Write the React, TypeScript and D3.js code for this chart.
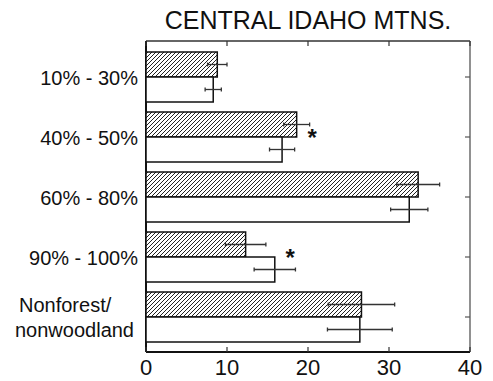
import * as d3 from 'd3'

const title = 'CENTRAL IDAHO MTNS.'
const categories = ['10% - 30%', '40% - 50%', '60% - 80%', '90% - 100%', 'Nonforest/\nnonwoodland']
const series = ['hatched', 'open']
const hatchedValues = [8.8, 18.6, 33.6, 12.3, 26.6]
const hatchedErrors = [1.2, 1.6, 2.65, 2.5, 4.1]
const openValues = [8.3, 16.8, 32.5, 15.9, 26.4]
const openErrors = [1.0, 1.55, 2.3, 2.55, 4.0]
const starCategories = ['40% - 50%', '90% - 100%']
const starValues = [20.5, 17.8]
const xTicks = [0, 10, 20, 30, 40]

const W = 493
const H = 381
const font = 'Liberation Sans, Arial, sans-serif'

export default function App() {
  const x = d3.scaleLinear().domain([0, 40]).range([146, 470])
  const y = d3.scaleBand<string>().domain(categories).range([47, 347]).padding(0)
  const inner = d3.scaleBand<string>().domain(series).range([0, y.bandwidth()]).paddingInner(0).paddingOuter(0.2)
  const top = 41
  const bottom = 352

  const rows = categories.map((c, i) => [
    { c, s: 'hatched', v: hatchedValues[i], e: hatchedErrors[i] },
    { c, s: 'open', v: openValues[i], e: openErrors[i] },
  ]).flat()

  return (
    <svg width={W} height={H} style={{ position: 'absolute', left: 0, top: 0 }} fontFamily={font}>
      <defs>
        <pattern id="hatch" width={4} height={4} patternUnits="userSpaceOnUse">
          <rect width={4} height={4} fill="#fff" />
          <path d="M-1,1 l2,-2 M0,4 l4,-4 M3,5 l2,-2" stroke="#222" strokeWidth={1} />
        </pattern>
      </defs>
      <rect width={W} height={H} fill="#fff" />

      <text x={(x(0) + x(40)) / 2} y={29} textAnchor="middle" fontSize={25} fill="#111">{title}</text>

      {/* frame */}
      <line x1={x(0)} x2={x(40)} y1={top} y2={top} stroke="#333" strokeWidth={1.3} />
      <line x1={x(40)} x2={x(40)} y1={top} y2={bottom} stroke="#555" strokeWidth={1.3} />
      <line x1={x(0)} x2={x(40)} y1={bottom} y2={bottom} stroke="#111" strokeWidth={2} />
      <line x1={x(0)} x2={x(0)} y1={top} y2={bottom} stroke="#111" strokeWidth={2} />

      {xTicks.map(t => (
        <g key={t}>
          <line x1={x(t)} x2={x(t)} y1={bottom} y2={bottom - 5} stroke="#333" strokeWidth={1.2} />
          <line x1={x(t)} x2={x(t)} y1={top} y2={top + 5} stroke="#333" strokeWidth={1.2} />
          <text x={x(t)} y={375} textAnchor="middle" fontSize={22} fill="#111">{t}</text>
        </g>
      ))}

      {categories.map(c => (
        <line key={c} x1={x(40)} x2={x(40) - 5} y1={y(c)! + y.bandwidth() / 2} y2={y(c)! + y.bandwidth() / 2} stroke="#555" strokeWidth={1.2} />
      ))}

      {rows.map(r => (
        <rect key={r.c + r.s}
          x={x(0)} y={y(r.c)! + inner(r.s)!}
          width={x(r.v) - x(0)} height={inner.bandwidth()}
          fill={r.s === 'hatched' ? 'url(#hatch)' : '#fff'}
          stroke="#111" strokeWidth={1.5} />
      ))}

      {rows.map(r => {
        const cy = y(r.c)! + inner(r.s)! + inner.bandwidth() / 2
        return (
          <g key={'e' + r.c + r.s} stroke="#333" strokeWidth={1.3}>
            <line x1={x(r.v - r.e)} x2={x(r.v + r.e)} y1={cy} y2={cy} />
            <line x1={x(r.v - r.e)} x2={x(r.v - r.e)} y1={cy - 2} y2={cy + 2} />
            <line x1={x(r.v + r.e)} x2={x(r.v + r.e)} y1={cy - 2} y2={cy + 2} />
          </g>
        )
      })}

      {starCategories.map((c, i) => (
        <text key={c} x={x(starValues[i])} y={y(c)! + y.bandwidth() / 2 + 9}
          textAnchor="middle" fontSize={24} fontWeight="bold" fill="#111">*</text>
      ))}

      {categories.map(c => {
        const lines = c.split('\n')
        const cy = y(c)! + y.bandwidth() / 2
        if (lines.length === 1) {
          return <text key={c} x={138} y={cy + 8} textAnchor="end" fontSize={20} fill="#111">{c}</text>
        }
        return (
          <text key={c} fontSize={20} fill="#111">
            <tspan x={19} y={cy - 5}>{lines[0]}</tspan>
            <tspan x={15} y={cy + 20}>{lines[1]}</tspan>
          </text>
        )
      })}
    </svg>
  )
}
